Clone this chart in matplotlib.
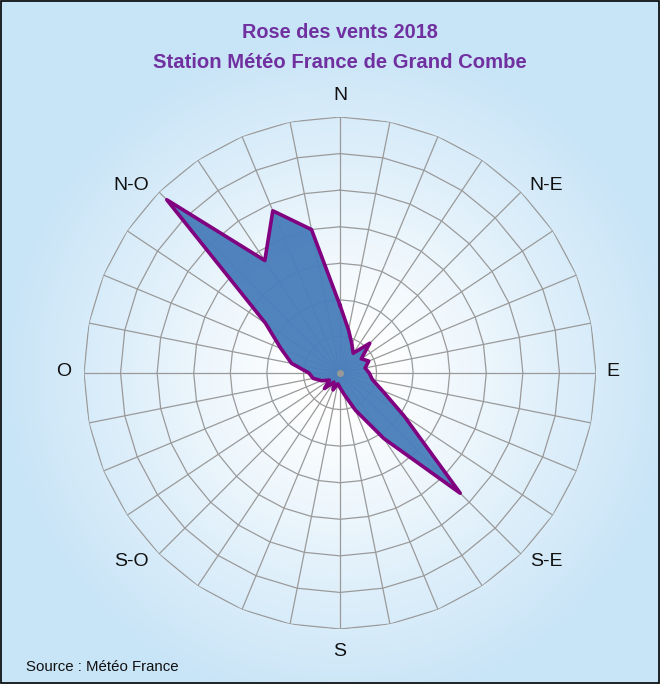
import matplotlib.pyplot as plt
import numpy as np
from matplotlib.patches import Rectangle

plt.rcParams['font.family'] = ['Liberation Sans', 'DejaVu Sans']

# frequences (%) par secteur de 11.25 degres, depuis le nord dans le sens horaire
directions = np.arange(0, 360, 11.25)
frequences = [3.7, 2.4, 1.7, 1.3, 2.3, 1.4, 1.7, 1.4,
              1.6, 1.8, 2.5, 4.2, 9.3, 4.3, 2.2, 1.2,
              0.8, 0.6, 1.0, 0.6, 1.2, 0.7, 1.1, 1.5,
              1.7, 2.7, 3.5, 4.9, 13.4, 7.4, 9.6, 8.0]
anneaux = [2, 4, 6, 8, 10, 12, 14]
points_cardinaux = ["N", "N-E", "E", "S-E", "S", "S-O", "O", "N-O"]

W, H = 660, 684
cx, cy, R = 340, 373, 256
# position des libelles (pixels, depuis le haut)
pos_libelles = [(340, 95), (546, 186), (613, 372), (546, 561),
                (340, 652), (131, 561), (64, 372), (131, 186)]

fig = plt.figure(figsize=(W / 100, H / 100), dpi=100)

# fond degrade radial
bg = fig.add_axes([0, 0, 1, 1])
yy, xx = np.mgrid[0:H, 0:W]
d = np.sqrt((xx - cx) ** 2 + (yy - cy) ** 2)
t = np.clip((d - 40) / 300, 0, 1)[..., None]
bleu = np.array([200, 228, 247]) / 255
img = (1 - t) * np.ones(3) + t * bleu
bg.imshow(img, extent=[0, W, H, 0], aspect='auto')
bg.set_xlim(0, W)
bg.set_ylim(H, 0)
bg.axis("off")
bg.add_patch(Rectangle((0.5, 0.5), W - 1.5, H - 1.5, fill=False, ec="black", lw=1.2))

for lab, (x, y) in zip(points_cardinaux, pos_libelles):
    bg.text(x, y, lab, ha="center", va="center", fontsize=14, color="#111111")

# rose des vents
ax = fig.add_axes([(cx - R) / W, (H - cy - R) / H, 2 * R / W, 2 * R / H], projection="polar")
ax.set_theta_zero_location("N")
ax.set_theta_direction(-1)
ax.set_ylim(0, anneaux[-1])
ax.patch.set_alpha(0)
ax.spines["polar"].set_visible(False)
ax.grid(False)
ax.set_xticks([])
ax.set_yticks([])

th = np.deg2rad(np.append(directions, 360))
for r in anneaux:
    ax.plot(th, [r] * len(th), color="#9a9a9a", lw=0.9, zorder=1)
for a in directions:
    ax.plot([np.deg2rad(a)] * 2, [0, anneaux[-1]], color="#9a9a9a", lw=0.9, zorder=1)

vals = np.append(frequences, frequences[0])
ax.fill(th, vals, color="#4a7ebb", alpha=0.96, zorder=2)
ax.plot(th, vals, color="#800080", lw=2.6, zorder=3)
ax.plot([0], [0], "o", color="#999999", ms=4, zorder=4)

fig.text(0.515, 1 - 33 / H, "Rose des vents 2018", ha="center", va="center",
         fontsize=14.3, fontweight="bold", color="#7030a0")
fig.text(0.515, 1 - 62 / H, "Station Météo France de Grand Combe", ha="center", va="center",
         fontsize=14.6, fontweight="bold", color="#7030a0")
fig.text(26 / W, 1 - 667 / H, "Source : Météo France", ha="left", va="center",
         fontsize=10.8, color="#111111")

fig.savefig("out.png", dpi=100)
